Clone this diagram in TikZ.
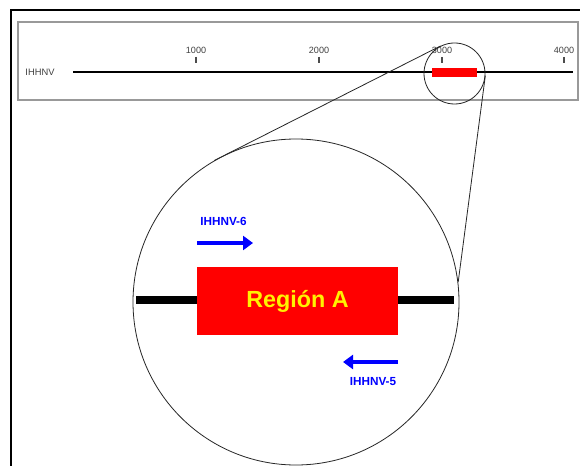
\documentclass[tikz,border=0pt]{standalone}
\usepackage{fontspec}
\setmainfont{Liberation Sans}
\usetikzlibrary{arrows.meta}
\tikzset{
  frameline/.style={line width=1.5pt, black},
  mapbox/.style={draw=gray!80, line width=0.8pt},
  genome/.style={line width=2.2pt, black},
  ticklbl/.style={font=\fontsize{6.8}{7}\selectfont, text=black!75, inner sep=0pt},
  tickmark/.style={line width=0.8pt, black!70},
  lens/.style={circle, draw, line width=0.6pt, inner sep=0pt, black!85},
  zoomline/.style={line width=0.6pt, black!85},
  primer/.style={line width=2.8pt, blue, -{Triangle[length=7.5pt,width=10.5pt]}},
  primerlbl/.style={font=\bfseries\fontsize{8.8}{10}\selectfont, text=blue, inner sep=0pt},
}
\begin{document}
\begin{tikzpicture}[x=0.75pt, y=-0.75pt]
\useasboundingbox[fill=white] (0,0) rectangle (580,466);

% outer frame (continues past the right and bottom edges)
\draw[frameline] (10.5,466) -- (10.5,10.5) -- (580,10.5);

% genome map panel
\draw[mapbox] (18,22) rectangle (578,100);
\node[font=\fontsize{7}{8}\selectfont, text=black!75, inner sep=0pt] (name) at (40,72) {IHHNV};
\coordinate (gstart) at (73,72);
\coordinate (gend) at (573,72);
\draw[genome] (gstart) -- (gend);
\foreach \x/\t in {196/1000, 319/2000, 442/3000, 564/4000}{
  \node[ticklbl] (t\t) at (\x,50) {\t};
  \draw[tickmark] (\x,57) -- (\x,63);
}
% highlighted region on the map
\fill[red] (432,68) rectangle (477,77.5);

% magnifier circles and the lines joining them
\node[lens, minimum size=45.75pt] (small) at (454.5,73.5) {};
\node[lens, minimum size=244.5pt] (big) at (296,302) {};
\draw[zoomline] (small.117) -- (big.120);
\draw[zoomline] (small.-4) -- (big.7.8);

% enlarged view
\draw[line width=6pt, black] (big.west) ++(3.5,-2) coordinate (bl) -- ++(318,0) coordinate (br);
\node[fill=red, minimum width=150.75pt, minimum height=51pt, inner sep=0pt,
      font=\bfseries\fontsize{17.5}{20}\selectfont, text=yellow] (regA) at (297.5,301) {Región A};

% primers
\coordinate (p6a) at (197,243);
\coordinate (p6b) at (253,243);
\draw[primer] (p6a) -- (p6b);
\node[primerlbl] (l6) at (223.5,221) {IHHNV-6};
\coordinate (p5a) at (398,362);
\coordinate (p5b) at (343,362);
\draw[primer] (p5a) -- (p5b);
\node[primerlbl] (l5) at (373,382) {IHHNV-5};
\end{tikzpicture}
\end{document}
